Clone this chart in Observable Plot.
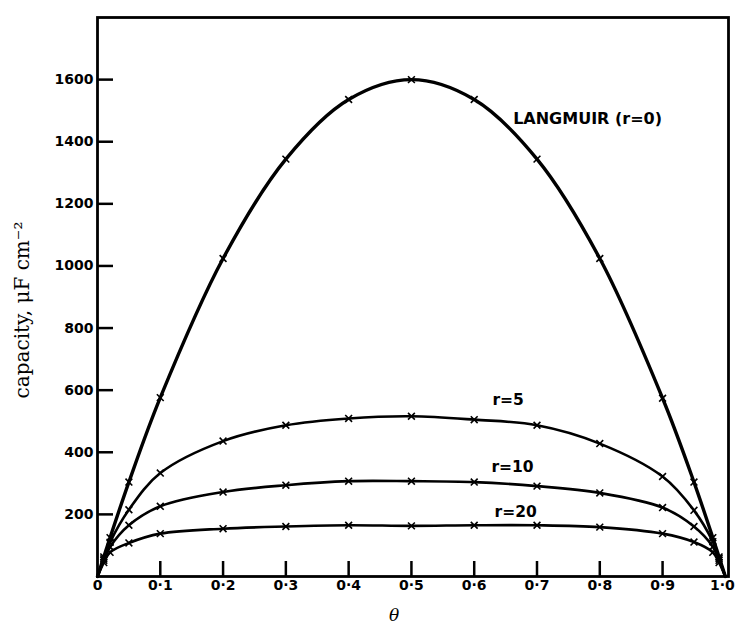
<!DOCTYPE html>
<html>
<head>
<meta charset="utf-8">
<script src="https://cdn.jsdelivr.net/npm/d3@7"></script>
<script src="https://cdn.jsdelivr.net/npm/@observablehq/plot@0.6"></script>
<style>
  html, body { margin: 0; padding: 0; background: white; }
</style>
</head>
<body>
<div id="chart"></div>
<script>
// θ values at which the curves were computed
const theta = [0, 0.01, 0.02, 0.05, 0.1, 0.2, 0.3, 0.4, 0.5, 0.6, 0.7, 0.8, 0.9, 0.95, 0.98, 0.99, 1];
// capacity, μF cm^-2
const langmuir = [0, 63, 125, 304, 576, 1024, 1344, 1536, 1600, 1536, 1344, 1024, 574, 304, 125, 63, 0];
const r5  = [0, 57, 110, 215, 333, 436, 487, 509, 516, 505, 487, 428, 322, 213, 112, 58, 0];
const r10 = [0, 52, 95, 165, 226, 272, 294, 307, 307, 304, 291, 269, 222, 161, 96, 52, 0];
const r20 = [0, 45, 78, 108, 138, 154, 161, 165, 163, 165, 165, 159, 138, 111, 78, 45, 0];

const seriesNames = ["LANGMUIR (r=0)", "r=5", "r=10", "r=20"];
const seriesValues = [langmuir, r5, r10, r20];

// curve labels
const labelText  = ["LANGMUIR (r=0)", "r=5", "r=10", "r=20"];
const labelTheta = [0.662, 0.654, 0.661, 0.666];
const labelValue = [1475, 567, 354, 206];

// tick values
const xTicks = [0, 0.1, 0.2, 0.3, 0.4, 0.5, 0.6, 0.7, 0.8, 0.9, 1.0];
const yTicks = [200, 400, 600, 800, 1000, 1200, 1400, 1600];

const rows = seriesNames.map((name, i) =>
  theta.map((t, j) => ({series: name, theta: t, value: seriesValues[i][j]}))
);
const labels = labelText.map((t, i) => ({text: t, theta: labelTheta[i], value: labelValue[i], first: i === 0}));

const fmtX = d => d === 0 ? "0" : d.toFixed(1).replace(".", "·");

const W = 735, H = 627, mL = 97, mR = 7, mT = 17, mB = 51;
const xDomain = [0, 1.005], yDomain = [0, 1800];
// inward tick lengths (16 px and 15 px) expressed in scale units
const yTickLen = 16 / (W - mL - mR) * (xDomain[1] - xDomain[0]);
const xTickLen = 15 / (H - mT - mB) * (yDomain[1] - yDomain[0]);

const lineMarks = rows.map((r, i) => Plot.line(r, {
  x: "theta", y: "value", curve: "catmull-rom",
  stroke: "black", strokeWidth: i === 0 ? 3.4 : 2.6, strokeLinecap: "round"
}));
const dotMarks = rows.map(r => Plot.dot(r.filter(d => d.value > 0), {
  x: "theta", y: "value", symbol: "times", r: 3.2, stroke: "black", strokeWidth: 1.6,
  fill: "white"
}));

const chart = Plot.plot({
  width: W, height: H,
  marginLeft: mL, marginRight: mR, marginTop: mT, marginBottom: mB,
  x: {domain: xDomain, label: null},
  y: {domain: yDomain, label: null},
  style: {fontFamily: "'DejaVu Sans', sans-serif", fontSize: "14px", fontWeight: "bold", color: "black", background: "white"},
  marks: [
    // inward tick marks
    Plot.ruleY(yTicks, {y: d => d, x1: xDomain[0], x2: xDomain[0] + yTickLen, stroke: "black", strokeWidth: 2.5}),
    Plot.ruleX(xTicks.filter(d => d > 0 && d < 1), {x: d => d, y1: yDomain[0], y2: yDomain[0] + xTickLen, stroke: "black", strokeWidth: 2.5}),
    // tick labels
    Plot.axisY(yTicks, {tickSize: 0, tickPadding: 4, tickFormat: d => String(d), fontSize: 14, fontWeight: "bold"}),
    Plot.axisX(xTicks.filter(d => d < 1), {tickSize: 0, tickPadding: 4, tickFormat: fmtX, fontSize: 14, fontWeight: "bold"}),
    Plot.axisX([1.0], {tickSize: 0, tickPadding: 4, tickFormat: fmtX, dx: -3, fontSize: 14, fontWeight: "bold"}),
    ...lineMarks,
    ...dotMarks,
    Plot.frame({stroke: "black", strokeWidth: 2.8}),
    Plot.text(labels.filter(d => d.first), {x: "theta", y: "value", text: "text", textAnchor: "start", fontSize: 16, fontWeight: "bold"}),
    Plot.text(labels.filter(d => !d.first), {x: "theta", y: "value", text: "text", textAnchor: "middle", fontSize: 15.5, fontWeight: "bold"}),
    Plot.text(["capacity, μF cm⁻²"], {frameAnchor: "left", textAnchor: "middle", lineAnchor: "middle", text: d => d, rotate: -90, dx: -75, dy: 13,
      fontFamily: "'DejaVu Serif', 'Liberation Serif', serif", fontWeight: "normal", fontSize: 20}),
    Plot.text(["θ"], {frameAnchor: "bottom", textAnchor: "middle", lineAnchor: "middle", text: d => d, dx: -19, dy: 39,
      fontFamily: "'DejaVu Serif', 'Liberation Serif', serif", fontStyle: "italic", fontWeight: "normal", fontSize: 17})
  ]
});
document.getElementById("chart").appendChild(chart);
</script>
</body>
</html>
